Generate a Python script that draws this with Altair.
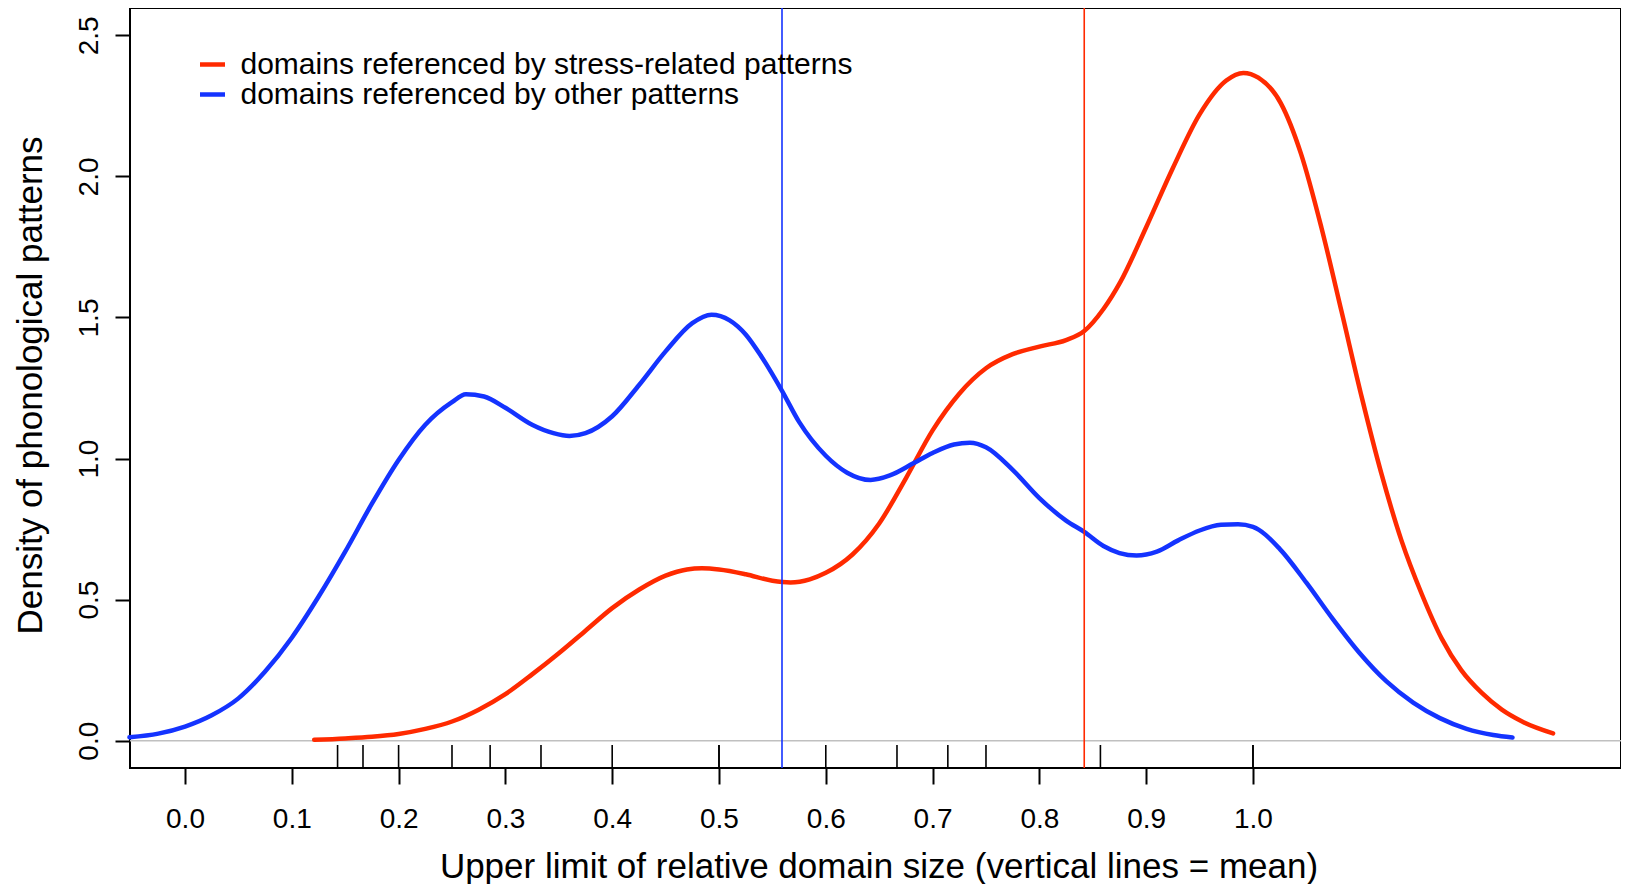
import altair as alt
import pandas as pd

# ---- data ----
series_names = ["domains referenced by stress-related patterns",
                "domains referenced by other patterns"]
series_colors = ["#FF2A00", "#1433FF"]

blue_x = [-0.052, -0.025, 0.0, 0.025, 0.05, 0.075, 0.1, 0.125, 0.15, 0.175, 0.2, 0.225,
          0.25, 0.263, 0.28, 0.3, 0.325, 0.345, 0.36, 0.375, 0.4, 0.425, 0.45, 0.475,
          0.493, 0.51, 0.525, 0.54, 0.559, 0.575, 0.6, 0.62, 0.642, 0.66, 0.682, 0.7,
          0.72, 0.735, 0.75, 0.775, 0.8, 0.825, 0.842, 0.86, 0.875, 0.891, 0.91, 0.93,
          0.95, 0.97, 0.986, 1.0, 1.025, 1.05, 1.075, 1.1, 1.125, 1.15, 1.175, 1.2,
          1.225, 1.243]
blue_y = [0.012, 0.025, 0.05, 0.09, 0.15, 0.245, 0.365, 0.51, 0.67, 0.84, 0.995, 1.12,
          1.2, 1.228, 1.22, 1.18, 1.12, 1.09, 1.08, 1.09, 1.15, 1.26, 1.38, 1.48,
          1.51, 1.49, 1.44, 1.36, 1.24, 1.13, 1.01, 0.95, 0.924, 0.94, 0.983, 1.02,
          1.05, 1.056, 1.04, 0.96, 0.86, 0.78, 0.74, 0.69, 0.665, 0.656, 0.67, 0.71,
          0.745, 0.765, 0.767, 0.758, 0.68, 0.56, 0.43, 0.31, 0.21, 0.135, 0.08, 0.042,
          0.02, 0.011]

red_x = [0.121, 0.15, 0.175, 0.2, 0.225, 0.25, 0.275, 0.3, 0.325, 0.35, 0.375, 0.4,
         0.425, 0.45, 0.47, 0.484, 0.5, 0.525, 0.55, 0.567, 0.585, 0.6, 0.625, 0.65,
         0.675, 0.7, 0.725, 0.75, 0.775, 0.8, 0.825, 0.842, 0.86, 0.876, 0.9, 0.925,
         0.95, 0.975, 0.991, 1.005, 1.026, 1.045, 1.064, 1.083, 1.102, 1.12, 1.139,
         1.158, 1.177, 1.195, 1.214, 1.233, 1.252, 1.281]
red_y = [0.003, 0.008, 0.014, 0.024, 0.042, 0.068, 0.11, 0.165, 0.235, 0.31, 0.39, 0.47,
         0.535, 0.585, 0.607, 0.611, 0.607, 0.59, 0.567, 0.561, 0.572, 0.595, 0.66, 0.77,
         0.93, 1.10, 1.23, 1.32, 1.37, 1.397, 1.42, 1.452, 1.53, 1.627, 1.82, 2.03,
         2.22, 2.34, 2.367, 2.35, 2.26, 2.08, 1.82, 1.52, 1.215, 0.95, 0.71,
         0.52, 0.36, 0.25, 0.17, 0.11, 0.068, 0.026]

rug_x = [1/7, 1/6, 0.2, 0.25, 2/7, 1/3, 0.4, 0.5, 0.5, 0.6, 2/3, 5/7, 0.75, 6/7, 1.0, 1.0]
mean_x = [0.842, 0.559]   # stress-related, other
zero_line = [0.0]

x_ticks = [0.0, 0.1, 0.2, 0.3, 0.4, 0.5, 0.6, 0.7, 0.8, 0.9, 1.0]
y_ticks = [0.0, 0.5, 1.0, 1.5, 2.0, 2.5]

x_title = "Upper limit of relative domain size (vertical lines = mean)"
y_title = "Density of phonological patterns"

# ---- tables ----
curves = pd.concat([
    pd.DataFrame({"x": red_x, "y": red_y, "series": series_names[0]}),
    pd.DataFrame({"x": blue_x, "y": blue_y, "series": series_names[1]}),
])
rug_df = pd.DataFrame({"x": rug_x})
zero_df = pd.DataFrame({"y": zero_line})
mean_red = pd.DataFrame({"x": [mean_x[0]]})
mean_blue = pd.DataFrame({"x": [mean_x[1]]})

FONT = "Liberation Sans"
W, H = 1491, 760

x_scale = alt.Scale(domain=[-0.0515, 1.3446], nice=False, zero=False)
y_scale = alt.Scale(domain=[-0.0968, 2.597], nice=False, zero=False)

x_axis = alt.Axis(values=x_ticks, format=".1f", domain=False, grid=False,
                  tickSize=16, tickWidth=2, tickColor="black",
                  labelFont=FONT, labelFontSize=28, labelColor="black",
                  labelBaseline="alphabetic", labelPadding=43, labelFlush=False,
                  title=x_title, titleFont=FONT, titleFontSize=35,
                  titleFontWeight="normal", titleColor="black",
                  titleBaseline="alphabetic", titleX=1497 / 2, titleY=109,
                  titleAlign="center")
y_axis = alt.Axis(values=y_ticks, format=".1f", domain=False, grid=False,
                  tickSize=15, tickWidth=2, tickColor="black",
                  labelFont=FONT, labelFontSize=28, labelColor="black",
                  labelAngle=270, labelAlign="center", labelBaseline="alphabetic",
                  labelPadding=18, labelFlush=False,
                  title=y_title, titleFont=FONT, titleFontSize=35,
                  titleFontWeight="normal", titleColor="black",
                  titleAngle=270, titleBaseline="alphabetic", titleAlign="center",
                  titleX=-89, titleY=H / 2 - 3)

base_x = alt.X("x:Q", scale=x_scale, axis=x_axis)

zero = alt.Chart(zero_df).mark_rule(color="#C0C0C0", strokeWidth=1.5).encode(
    y=alt.Y("y:Q", scale=y_scale, axis=y_axis)
)

lines = alt.Chart(curves).mark_line(strokeWidth=4.5, strokeCap="round",
                                    interpolate="monotone").encode(
    x=base_x,
    y=alt.Y("y:Q", scale=y_scale, axis=y_axis),
    color=alt.Color("series:N",
                    scale=alt.Scale(domain=series_names, range=series_colors),
                    sort=series_names,
                    legend=alt.Legend(title=None, orient="none", legendX=67.5, legendY=41.5,
                                      symbolType="stroke", symbolSize=625,
                                      symbolStrokeWidth=4.5, labelFont=FONT,
                                      labelFontSize=30, labelColor="black",
                                      labelOffset=13, rowPadding=0, padding=0,
                                      labelLimit=0)),
)

rug = alt.Chart(rug_df).mark_rule(color="black", strokeWidth=1.6).encode(
    x=alt.X("x:Q", scale=x_scale),
    y=alt.value(H - 23),
    y2=alt.value(H),
)

vline_red = alt.Chart(mean_red).mark_rule(color="#FF2A00", strokeWidth=1.6).encode(
    x=alt.X("x:Q", scale=x_scale)
)
vline_blue = alt.Chart(mean_blue).mark_rule(color="#1433FF", strokeWidth=1.6).encode(
    x=alt.X("x:Q", scale=x_scale)
)

chart = alt.layer(zero, lines, rug, vline_blue, vline_red).properties(
    width=W, height=H,
    background="white",
    autosize=alt.AutoSizeParams(type="none"),
    padding={"left": 122, "top": 0, "right": 0, "bottom": 116},
).configure_view(
    stroke="black", strokeWidth=2
)

chart.save("out.html", embed_options={"renderer": "svg", "actions": False})
